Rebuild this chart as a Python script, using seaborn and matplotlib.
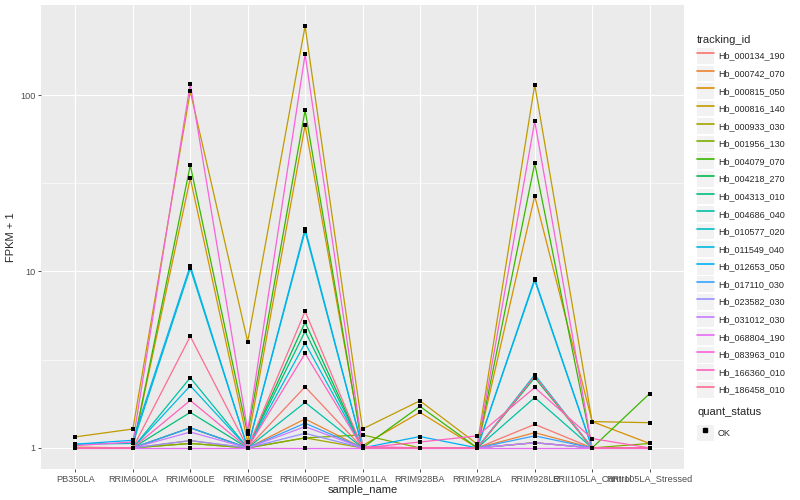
import numpy as np
import pandas as pd
import matplotlib
matplotlib.use("Agg")
import matplotlib.pyplot as plt
import seaborn as sns
from matplotlib.lines import Line2D
from matplotlib.patches import Rectangle
from matplotlib.legend_handler import HandlerLine2D

# Samples along the x axis
samples = ["PB350LA", "RRIM600LA", "RRIM600LE", "RRIM600SE", "RRIM600PE",
           "RRIM901LA", "RRIM928BA", "RRIM928LA", "RRIM928LE",
           "RRII105LA_Control", "RRII105LA_Stressed"]

tracking_ids = ["Hb_000134_190", "Hb_000742_070", "Hb_000815_050", "Hb_000816_140",
                "Hb_000933_030", "Hb_001956_130", "Hb_004079_070", "Hb_004218_270",
                "Hb_004313_010", "Hb_004686_040", "Hb_010577_020", "Hb_011549_040",
                "Hb_012653_050", "Hb_017110_030", "Hb_023582_030", "Hb_031012_030",
                "Hb_068804_190", "Hb_083963_010", "Hb_166360_010", "Hb_186458_010"]

# FPKM + 1, one row per tracking id
hb_000134_190 = [1.00, 1.00, 1.30, 1.00, 2.22, 1.00, 1.00, 1.00, 1.36, 1.00, 1.00]
hb_000742_070 = [1.00, 1.00, 1.10, 1.00, 1.46, 1.00, 1.00, 1.00, 1.22, 1.00, 1.00]
hb_000815_050 = [1.01, 1.00, 33.8, 1.08, 67.5, 1.03, 1.59, 1.00, 26.8, 1.41, 1.06]
hb_000816_140 = [1.155, 1.28, 105.0, 4.00, 246.0, 1.28, 1.85, 1.05, 114.5, 1.41, 1.39]
hb_000933_030 = [1.00, 1.00, 1.06, 1.00, 1.14, 1.00, 1.00, 1.00, 1.07, 1.00, 1.00]
hb_001956_130 = [1.00, 1.00, 1.06, 1.00, 1.14, 1.185, 1.00, 1.00, 1.07, 1.00, 1.06]
hb_004079_070 = [1.00, 1.00, 40.0, 1.20, 82.0, 1.00, 1.72, 1.00, 41.0, 1.00, 2.03]
hb_004218_270 = [1.00, 1.00, 1.30, 1.00, 5.15, 1.00, 1.00, 1.00, 2.50, 1.00, 1.00]
hb_004313_010 = [1.00, 1.00, 1.59, 1.00, 4.58, 1.00, 1.00, 1.00, 2.55, 1.00, 1.00]
hb_004686_040 = [1.00, 1.00, 2.50, 1.00, 1.81, 1.00, 1.00, 1.00, 1.93, 1.00, 1.00]
hb_010577_020 = [1.05, 1.06, 10.4, 1.00, 16.9, 1.00, 1.00, 1.00, 8.9, 1.00, 1.00]
hb_011549_040 = [1.00, 1.00, 2.25, 1.00, 3.93, 1.00, 1.00, 1.00, 2.60, 1.00, 1.00]
hb_012653_050 = [1.05, 1.105, 10.8, 1.00, 17.5, 1.00, 1.16, 1.00, 9.1, 1.00, 1.00]
hb_017110_030 = [1.00, 1.00, 1.30, 1.00, 1.38, 1.00, 1.00, 1.00, 1.17, 1.00, 1.00]
hb_023582_030 = [1.00, 1.00, 1.10, 1.00, 1.21, 1.00, 1.00, 1.00, 1.07, 1.00, 1.00]
hb_031012_030 = [1.00, 1.00, 1.23, 1.00, 1.32, 1.00, 1.00, 1.00, 1.07, 1.00, 1.00]
hb_068804_190 = [1.00, 1.00, 1.00, 1.00, 1.00, 1.00, 1.00, 1.00, 1.00, 1.00, 1.00]
hb_083963_010 = [1.03, 1.08, 116.0, 1.25, 170.0, 1.02, 1.00, 1.00, 71.0, 1.00, 1.00]
hb_166360_010 = [1.00, 1.00, 1.86, 1.00, 3.43, 1.00, 1.08, 1.17, 2.20, 1.13, 1.00]
hb_186458_010 = [1.00, 1.00, 4.29, 1.00, 5.95, 1.00, 1.00, 1.00, 2.55, 1.00, 1.00]

series = [hb_000134_190, hb_000742_070, hb_000815_050, hb_000816_140, hb_000933_030,
          hb_001956_130, hb_004079_070, hb_004218_270, hb_004313_010, hb_004686_040,
          hb_010577_020, hb_011549_040, hb_012653_050, hb_017110_030, hb_023582_030,
          hb_031012_030, hb_068804_190, hb_083963_010, hb_166360_010, hb_186458_010]

# ggplot default hue palette for 20 levels
gg_colors = ["#F8766D", "#EA8331", "#D89000", "#C09B00", "#A3A500", "#7CAE00",
             "#39B600", "#00BB4E", "#00BF7D", "#00C1A3", "#00BFC4", "#00BAE0",
             "#00B0F6", "#35A2FF", "#9590FF", "#C77CFF", "#E76BF3", "#FA62DB",
             "#FF62BC", "#FF6C91"]

rows = []
for tid, vals in zip(tracking_ids, series):
    for s, v in zip(samples, vals):
        rows.append({"tracking_id": tid, "sample_name": s, "fpkm1": v, "quant_status": "OK"})
df = pd.DataFrame(rows)
df["xpos"] = df["sample_name"].map({s: i for i, s in enumerate(samples)})

sns.set_style("darkgrid", {"axes.facecolor": "#EBEBEB", "grid.color": "white"})
plt.rcParams["font.family"] = ["Liberation Sans", "DejaVu Sans"]

fig = plt.figure(figsize=(8, 5), dpi=100)
ax = fig.add_axes([41 / 800, 31 / 500, 643 / 800, 464 / 500])

palette = dict(zip(tracking_ids, gg_colors))
sns.lineplot(data=df, x="xpos", y="fpkm1", hue="tracking_id", hue_order=tracking_ids,
             palette=palette, linewidth=0.9, ax=ax, legend=False, sort=False,
             estimator=None, units="tracking_id")
sns.scatterplot(data=df, x="xpos", y="fpkm1", color="black", marker="s", s=9,
                linewidth=0, ax=ax, legend=False, zorder=5)

ax.set_yscale("log")
r = np.log10(df["fpkm1"].max())
ax.set_ylim(10 ** (-0.05 * r), 10 ** (1.05 * r))
ax.set_xlim(-0.6, len(samples) - 0.4)
ax.set_yticks([1, 10, 100])
ax.set_yticklabels(["1", "10", "100"])
ax.set_yticks([10 ** 0.5, 10 ** 1.5], minor=True)
ax.yaxis.set_minor_formatter(matplotlib.ticker.NullFormatter())
ax.set_xticks(range(len(samples)))
ax.set_xticklabels(samples)

ax.grid(which="major", color="white", linewidth=0.8)
ax.grid(which="minor", axis="y", color="white", linewidth=0.4)
ax.tick_params(which="major", length=2.5, width=0.6, color="#333333",
               labelsize=6.6, labelcolor="#4D4D4D", pad=1.5, bottom=True, left=True)
ax.tick_params(which="minor", length=0)
for sp in ax.spines.values():
    sp.set_visible(False)
ax.set_xlabel("sample_name", fontsize=8, labelpad=1)
ax.set_ylabel("FPKM + 1", fontsize=8, labelpad=3)


class KeyHandler(HandlerLine2D):
    # draws the grey ggplot key box behind each legend line
    def create_artists(self, legend, orig_handle, xdescent, ydescent, width, height, fontsize, trans):
        artists = super().create_artists(legend, orig_handle, xdescent, ydescent,
                                         width, height, fontsize, trans)
        box = Rectangle((-xdescent, -ydescent), width, height, facecolor="#F2F2F2",
                        edgecolor="none", transform=trans, zorder=0)
        return [box] + list(artists)


leg_kw = dict(loc="upper left", frameon=False, fontsize=6.5,
              handlelength=1.85, handleheight=2.31, labelspacing=0.2, handletextpad=0.45,
              borderaxespad=0, borderpad=0, handler_map={Line2D: KeyHandler()})

# legend titles as separate texts, ggplot puts more room under them
fig.text(697 / 800, 1 - 40 / 500, "tracking_id", fontsize=8, va="center", ha="left")
line_handles = [Line2D([0], [0], color=c, lw=1.2) for c in gg_colors]
leg1 = fig.legend(line_handles, tracking_ids,
                  bbox_to_anchor=(697 / 800, 1 - 48 / 500), **leg_kw)

fig.text(697 / 800, 1 - 412 / 500, "quant_status", fontsize=8, va="center", ha="left")
pt_handle = Line2D([0], [0], color="black", marker="s", markersize=2.5, lw=0)
leg2 = fig.legend([pt_handle], ["OK"],
                  bbox_to_anchor=(697 / 800, 1 - 425 / 500), **leg_kw)

fig.savefig("out.png", dpi=100)
